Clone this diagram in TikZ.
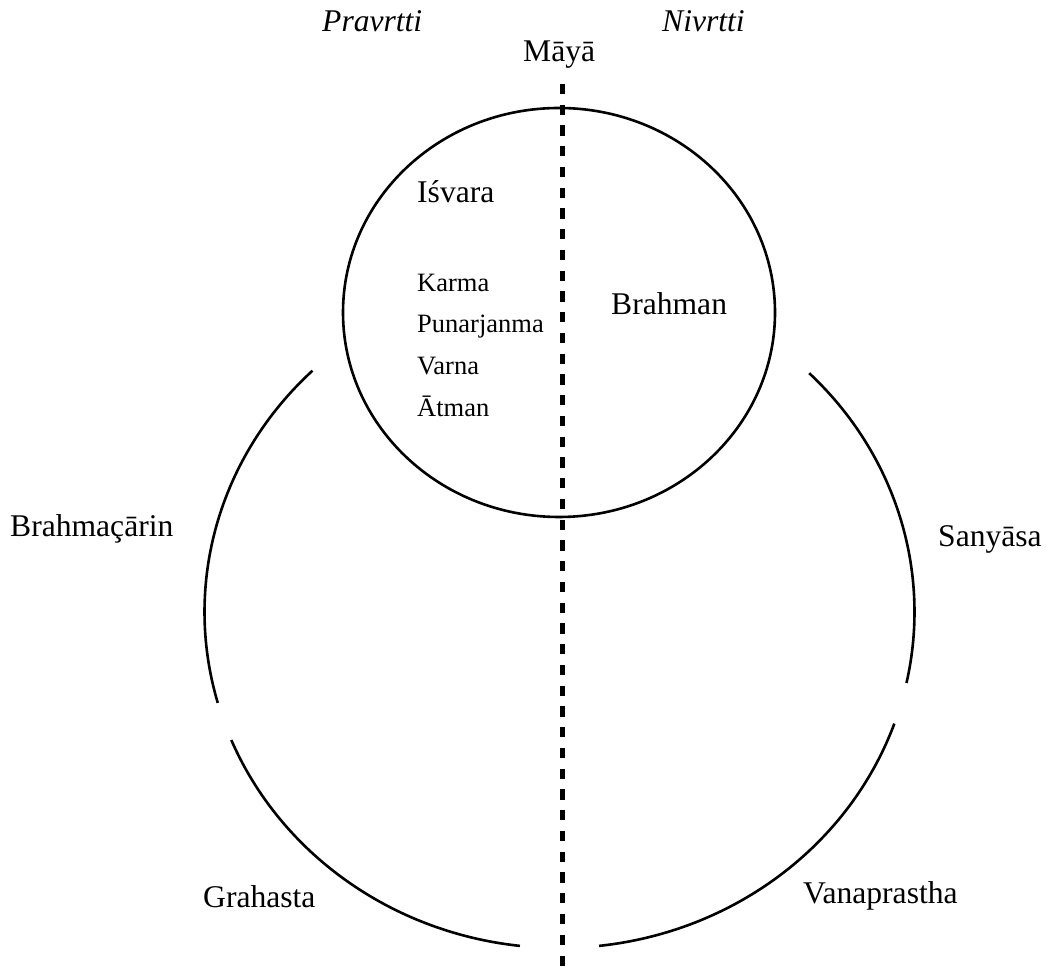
\documentclass[tikz,border=0pt]{standalone}
\usepackage{fontspec}
\setmainfont{Liberation Serif}
\begin{document}
\begin{tikzpicture}[x=1pt,y=1pt,
  lbl/.style={anchor=base west,inner sep=0pt,font=\fontsize{31.6}{36}\selectfont},
  sml/.style={anchor=base west,inner sep=0pt,font=\fontsize{26.5}{30}\selectfont},
  ring/.style={line width=2.6pt},
  divide/.style={line width=5pt,dash pattern=on 10.2pt off 10.55pt}]
\useasboundingbox (0,0) rectangle (1046,966);

% inner ellipse
\draw[ring] (559,653.5) ellipse[x radius=216, y radius=204.5];

% outer ring, four arcs with gaps
\coordinate (oc) at (559.5,354);
\draw[ring] ([shift={(134.1:355 and 336)}]oc) arc[start angle=134.1, end angle=195.7, x radius=355, y radius=336];
\draw[ring] ([shift={(202.4:355 and 336)}]oc) arc[start angle=202.4, end angle=263.6, x radius=355, y radius=336];
\draw[ring] ([shift={(276.4:355 and 336)}]oc) arc[start angle=276.4, end angle=340.6, x radius=355, y radius=336];
\draw[ring] ([shift={(347.8:355 and 336)}]oc) arc[start angle=347.8, end angle=405.3, x radius=355, y radius=336];

% dividing line
\coordinate (dtop) at (562,882);
\coordinate (dbot) at (562,0);
\draw[divide] (dtop) -- (dbot);

% labels
\node[lbl,font=\fontsize{31.6}{36}\selectfont\itshape] (pra) at (322,934) {Pravrtti};
\node[lbl,font=\fontsize{31.6}{36}\selectfont\itshape] (niv) at (662,934) {Nivrtti};
\node[lbl] (maya) at (523,904) {Māyā};
\node[lbl] (isv) at (417,763) {Iśvara};
\node[sml] (kar) at (417,674) {Karma};
\node[sml] (pun) at (417,633) {Punarjanma};
\node[sml] (var) at (417,591) {Varna};
\node[sml] (atm) at (417,549) {Ātman};
\node[lbl] (bra) at (611,651) {Brahman};
\node[lbl] (bcr) at (10,429) {Brahmaçārin};
\node[lbl] (san) at (938,419) {Sanyāsa};
\node[lbl] (gra) at (203,59) {Grahasta};
\node[lbl] (van) at (803,63) {Vanaprastha};
\end{tikzpicture}
\end{document}
